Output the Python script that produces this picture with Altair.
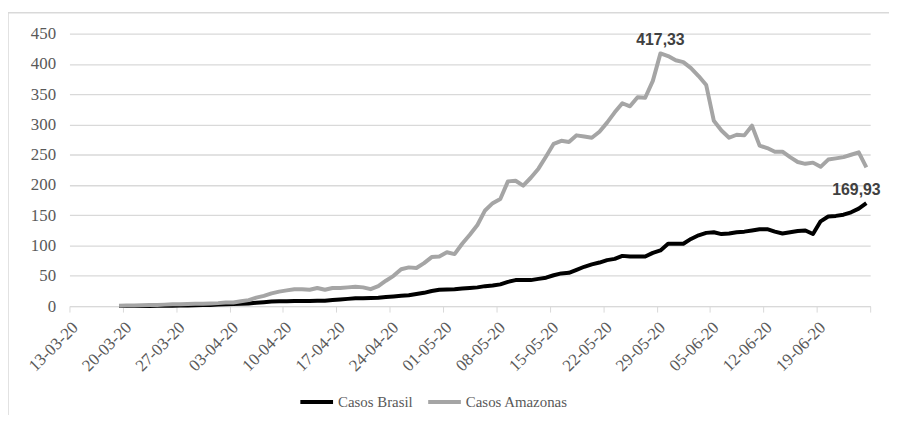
import altair as alt
import pandas as pd

# ---- data ----
start_date = "2020-03-19"
n_days = 99  # 19-03-20 .. 25-06-20

casos_brasil = [
    0.1, 0.1, 0.2, 0.3, 0.4, 0.5, 0.6, 0.8, 1.0, 1.2,
    1.5, 1.8, 2.0, 2.5, 3.0, 3.5, 4.0, 4.5, 5.5, 6.5,
    7.5, 8.0, 8.0, 8.5, 8.5, 8.5, 9.0, 9.0, 10.0, 11.0,
    12.0, 13.0, 13.0, 13.5, 14.0, 15.0, 16.0, 17.0, 18.0, 20.0,
    22.0, 25.0, 27.0, 27.5, 28.0, 29.0, 30.0, 31.0, 33.0, 34.0,
    36.0, 40.0, 43.0, 43.0, 43.0, 45.0, 47.0, 51.0, 54.0, 55.0,
    60.0, 65.0, 69.0, 72.0, 76.0, 78.0, 83.0, 82.0, 82.0, 82.0,
    88.0, 92.0, 103.0, 103.0, 103.0, 111.0, 117.0, 121.0, 122.0, 119.0,
    120.0, 122.0, 123.0, 125.0, 127.0, 127.0, 123.0, 120.0, 122.0, 124.0,
    125.0, 119.0, 140.0, 148.0, 149.0, 151.0, 155.0, 161.0, 169.93,
]

casos_amazonas = [
    0.5, 1.0, 1.0, 1.5, 2.0, 2.0, 2.5, 3.0, 3.0, 3.5,
    4.0, 4.0, 4.5, 5.0, 6.0, 6.0, 8.0, 10.0, 14.0, 17.0,
    21.0, 24.0, 26.0, 28.0, 28.0, 27.0, 30.0, 27.0, 30.0, 30.0,
    31.0, 32.0, 31.0, 28.0, 33.0, 42.0, 50.0, 61.0, 64.0, 63.0,
    71.0, 81.0, 82.0, 89.0, 86.0, 103.0, 118.0, 134.0, 158.0, 170.0,
    177.0, 206.0, 207.0, 199.0, 212.0, 227.0, 247.0, 268.0, 273.0, 271.0,
    282.0, 280.0, 278.0, 288.0, 303.0, 320.0, 335.0, 330.0, 345.0, 344.0,
    372.0, 417.33, 413.0, 406.0, 403.0, 393.0, 380.0, 365.0, 306.0, 290.0,
    278.0, 283.0, 282.0, 298.0, 265.0, 261.0, 255.0, 255.0, 246.0, 238.0,
    235.0, 237.0, 230.0, 242.0, 244.0, 246.0, 250.0, 254.0, 229.0,
]

series_names = ["Casos Brasil", "Casos Amazonas"]
series_colors = ["#000000", "#a5a5a5"]

tick_dates = pd.date_range("2020-03-13", "2020-06-26", freq="7D")

ann_dates = ["2020-05-29", "2020-06-25"]
ann_values = [417.33, 169.93]
ann_labels = ["417,33", "169,93"]

# ---- tables ----
dates = pd.date_range(start_date, periods=n_days, freq="D").strftime("%Y-%m-%d").tolist()
df = pd.DataFrame({
    "date": dates * 2,
    "value": casos_brasil + casos_amazonas,
    "serie": [series_names[0]] * n_days + [series_names[1]] * n_days,
})
ann = pd.DataFrame({"date": ann_dates, "value": ann_values, "label": ann_labels})

W, H = 808, 275
SERIF = "Liberation Serif"
MID_DAY = "time(toDate(datum.date)) + 43200000"  # Excel puts each day mid-slot

x_scale = alt.Scale(
    type="utc",
    domain=[alt.DateTime(year=2020, month=3, date=13, utc=True),
            alt.DateTime(year=2020, month=6, date=26, utc=True)],
)
y_scale = alt.Scale(domain=[0, 450])

x_axis = alt.Axis(
    values=[alt.DateTime(year=d.year, month=d.month, date=d.day, utc=True) for d in tick_dates],
    labelExpr="utcdate(datum.value) == 26 && utcmonth(datum.value) == 5 ? '' : utcFormat(datum.value, '%d-%m-%y')",
    labelAngle=-45, labelAlign="right", labelBaseline="top",
    labelFont=SERIF, labelFontSize=17, labelColor="#595959", labelPadding=7,
    domainColor="#d9d9d9", domainWidth=1, tickColor="#d9d9d9", tickSize=6,
    grid=False, title=None, labelOverlap=False,
)
y_axis = alt.Axis(
    values=list(range(0, 451, 50)),
    labelFont=SERIF, labelFontSize=17, labelColor="#595959", labelPadding=14,
    labelOverlap=False,
    domain=False, ticks=False, gridColor="#d9d9d9", gridWidth=1.3, title=None,
)

X = alt.X("xd:T", scale=x_scale, axis=x_axis)
Y = alt.Y("value:Q", scale=y_scale, axis=y_axis)

lines = alt.Chart(df).transform_calculate(xd=MID_DAY).mark_line(
    strokeWidth=4, strokeJoin="round", strokeCap="butt"
).encode(
    x=X,
    y=Y,
    color=alt.Color(
        "serie:N",
        scale=alt.Scale(domain=series_names, range=series_colors),
        sort=series_names,
        legend=alt.Legend(
            title=None, orient="none", direction="horizontal",
            legendX=231, legendY=353,
            symbolType="stroke", symbolSize=1089, symbolStrokeWidth=4,
            labelFont=SERIF, labelFontSize=15, labelColor="#595959",
            labelOffset=3, columnPadding=7,
        ),
    ),
    detail="serie:N",
)

ann_base = alt.Chart(ann).transform_calculate(xd=MID_DAY)
text_style = dict(font="Liberation Sans", fontWeight="bold", fontSize=16,
                  color="#404040", align="center", baseline="bottom", dy=-5)

label_peak = ann_base.transform_filter(
    alt.datum.label == ann_labels[0]
).mark_text(**text_style).encode(x=X, y=Y, text="label:N")

label_end = ann_base.transform_filter(
    alt.datum.label == ann_labels[1]
).mark_text(dx=-10, **text_style).encode(x=X, y=Y, text="label:N")

frame = alt.Chart(pd.DataFrame({"k": [0]})).mark_rect(
    filled=False, stroke="#d9d9d9", strokeWidth=1.5
).encode(
    x=alt.value(-62), x2=alt.value(W + 40), y=alt.value(-21), y2=alt.value(H + 200)
)

chart = alt.layer(frame, lines, label_peak, label_end).properties(
    width=W, height=H,
    autosize=alt.AutoSizeParams(type="none"),
    padding={"left": 62, "top": 24, "right": 19, "bottom": 108},
).configure(
    background="white",
    view=alt.ViewConfig(stroke=None, strokeWidth=0),
)

chart.save("out.html", embed_options={"renderer": "svg", "actions": False})
